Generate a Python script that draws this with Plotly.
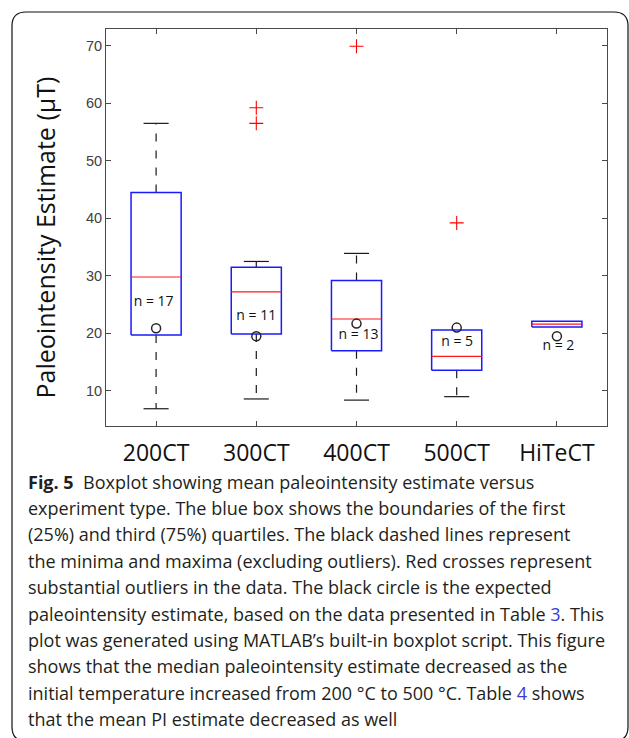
import plotly.graph_objects as go

# ---------------- data ----------------
categories = ["200CT", "300CT", "400CT", "500CT", "HiTeCT"]
q1 = [19.7, 19.9, 17.0, 13.6, 21.1]
median = [29.8, 27.2, 22.5, 16.0, 21.6]
q3 = [44.5, 31.5, 29.2, 20.6, 22.1]
whisker_low = [6.9, 8.6, 8.4, 9.0, 21.1]
whisker_high = [56.5, 32.5, 33.9, 20.6, 22.1]
outlier_cat = [2, 2, 3, 4]
outlier_val = [59.2, 56.5, 69.9, 39.2]
expected = [20.9, 19.5, 21.7, 21.0, 19.5]
n_counts = [17, 11, 13, 5, 2]
n_label_y = [25.3, 22.9, 19.7, 18.4, 17.7]
n_label_dx = [-0.025, 0.0, 0.02, 0.005, 0.015]
y_ticks = [10, 20, 30, 40, 50, 60, 70]
y_title = "Paleointensity Estimate (μT)"

caption_lines = [
    "<b>Fig. 5</b>  Boxplot showing mean paleointensity estimate versus",
    "experiment type. The blue box shows the boundaries of the first",
    "(25%) and third (75%) quartiles. The black dashed lines represent",
    "the minima and maxima (excluding outliers). Red crosses represent",
    "substantial outliers in the data. The black circle is the expected",
    "paleointensity estimate, based on the data presented in Table <span style='color:#3b3bd6'>3</span>. This",
    "plot was generated using MATLAB’s built-in boxplot script. This figure",
    "shows that the median paleointensity estimate decreased as the",
    "initial temperature increased from 200 °C to 500 °C. Table <span style='color:#3b3bd6'>4</span> shows",
    "that the mean PI estimate decreased as well",
]

# ---------------- layout geometry ----------------
W, H = 629, 738
ML, MR, MT, MB = 106, 22, 29, 312
PW = W - ML - MR
PH = H - MT - MB


def px2x(px):
    return (px - ML) / PW


def px2y(py):
    return (H - MB - py) / PH


BOX_HALF = 0.25
CAP_HALF = 0.125
xs = list(range(1, len(categories) + 1))

# ---------------- traces ----------------
wx, wy = [], []
for i, x in enumerate(xs):
    if whisker_high[i] > q3[i]:
        wx += [x, x, None]
        wy += [q3[i], whisker_high[i], None]
    if whisker_low[i] < q1[i]:
        wx += [x, x, None]
        wy += [q1[i], whisker_low[i], None]

cx, cy = [], []
for i, x in enumerate(xs):
    if whisker_high[i] > q3[i]:
        cx += [x - CAP_HALF, x + CAP_HALF, None]
        cy += [whisker_high[i], whisker_high[i], None]
    if whisker_low[i] < q1[i]:
        cx += [x - CAP_HALF, x + CAP_HALF, None]
        cy += [whisker_low[i], whisker_low[i], None]

bx, by = [], []
for i, x in enumerate(xs):
    bx += [x - BOX_HALF, x + BOX_HALF, x + BOX_HALF, x - BOX_HALF, x - BOX_HALF, None]
    by += [q1[i], q1[i], q3[i], q3[i], q1[i], None]

mx, my = [], []
for i, x in enumerate(xs):
    mx += [x - BOX_HALF, x + BOX_HALF, None]
    my += [median[i], median[i], None]

fig = go.Figure()
fig.add_trace(go.Scatter(x=wx, y=wy, mode="lines",
                         line=dict(color="#1a1a1a", width=1.2, dash="8px,9px"),
                         hoverinfo="skip"))
fig.add_trace(go.Scatter(x=cx, y=cy, mode="lines",
                         line=dict(color="#1a1a1a", width=1.2), hoverinfo="skip"))
fig.add_trace(go.Scatter(x=bx, y=by, mode="lines",
                         line=dict(color="#1a1aff", width=1.5), hoverinfo="skip"))
fig.add_trace(go.Scatter(x=mx, y=my, mode="lines",
                         line=dict(color="#ff1a1a", width=1.2), hoverinfo="skip"))
fig.add_trace(go.Scatter(x=outlier_cat, y=outlier_val, mode="markers",
                         marker=dict(symbol="cross-thin", size=10,
                                     line=dict(color="#ff0000", width=1.1)),
                         hoverinfo="skip"))
fig.add_trace(go.Scatter(x=xs, y=expected, mode="markers",
                         marker=dict(symbol="circle-open", size=9,
                                     color="#262626", line=dict(width=1.5)),
                         hoverinfo="skip"))
fig.add_trace(go.Scatter(x=[x + d for x, d in zip(xs, n_label_dx)], y=n_label_y,
                         mode="text", text=[f"n = {n}" for n in n_counts],
                         textfont=dict(family="Open Sans", size=14, color="#111111"),
                         hoverinfo="skip"))

# ---------------- axes ----------------
axis_color = "#4a4a4a"
fig.update_xaxes(range=[0.5, 5.5], tickvals=xs, ticktext=categories,
                 ticks="inside", ticklen=5, tickcolor=axis_color, tickwidth=1,
                 showline=True, linecolor=axis_color, linewidth=1, mirror="ticks",
                 showgrid=False, zeroline=False,
                 tickfont=dict(family="Open Sans", size=23, color="#111111"),
                 ticklabelstandoff=6)
fig.update_yaxes(range=[3.9, 72.9], tickvals=y_ticks,
                 ticks="inside", ticklen=5, tickcolor=axis_color, tickwidth=1,
                 showline=True, linecolor=axis_color, linewidth=1, mirror="ticks",
                 showgrid=False, zeroline=False,
                 tickfont=dict(family="Liberation Sans", size=14.5, color="#404040"))

fig.add_annotation(text=y_title, textangle=-90, xref="paper", yref="paper",
                   x=px2x(44), y=px2y(237.5), xanchor="center", yanchor="middle",
                   showarrow=False,
                   font=dict(family="Open Sans", size=25, color="#111111"))

# ---------------- frame and caption ----------------
fl, ft, fr, fb, rad = 12, 12, 628, 741, 14
x0, x1 = px2x(fl), px2x(fr)
y0, y1 = px2y(ft), px2y(fb)
rx, ry = rad / PW, rad / PH
path = (f"M {x0+rx} {y0} L {x1-rx} {y0} Q {x1} {y0} {x1} {y0-ry} "
        f"L {x1} {y1+ry} Q {x1} {y1} {x1-rx} {y1} L {x0+rx} {y1} "
        f"Q {x0} {y1} {x0} {y1+ry} L {x0} {y0-ry} Q {x0} {y0} {x0+rx} {y0} Z")
fig.add_shape(type="path", path=path, xref="paper", yref="paper",
              line=dict(color="#111111", width=1.2), layer="above")

for k, line in enumerate(caption_lines):
    fig.add_annotation(text=line, xref="paper", yref="paper",
                       x=px2x(26), y=px2y(481.5 + 26.4 * k),
                       xanchor="left", yanchor="middle", showarrow=False,
                       font=dict(family="Open Sans", size=18, color="#231f20"))

fig.update_layout(width=W, height=H,
                  margin=dict(l=ML, r=MR, t=MT, b=MB, autoexpand=False),
                  paper_bgcolor="white", plot_bgcolor="white",
                  showlegend=False)

fig.write_html("out.html")
